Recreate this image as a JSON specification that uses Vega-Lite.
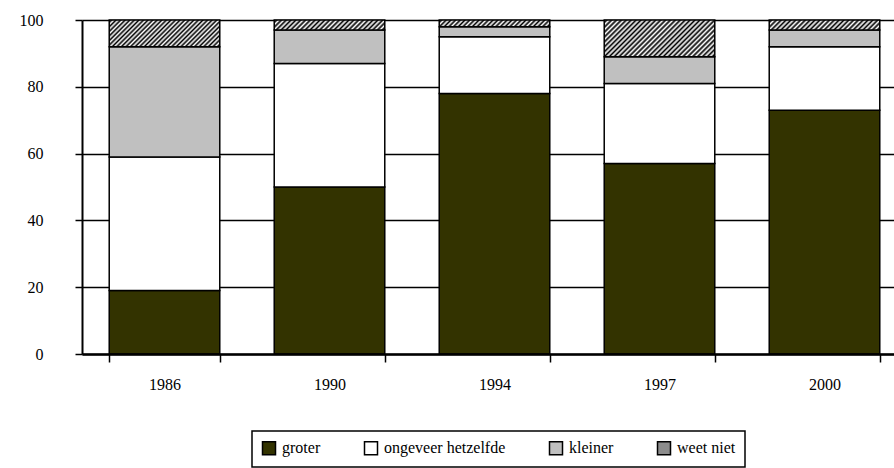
{
  "$schema": "https://vega.github.io/schema/vega-lite/v6.json",
  "width": 812,
  "height": 334,
  "autosize": {"type": "none"},
  "padding": {"left": 82, "top": 20, "right": 0, "bottom": 114},
  "background": "white",
  "config": {"view": {"stroke": null}, "font": "Liberation Serif"},
  "data": {
    "values": [
      {"year": "1986", "cat": "groter", "k": 1, "pct": 19},
      {"year": "1986", "cat": "ongeveer hetzelfde", "k": 2, "pct": 40},
      {"year": "1986", "cat": "kleiner", "k": 3, "pct": 33},
      {"year": "1986", "cat": "weet niet", "k": 4, "pct": 8},
      {"year": "1990", "cat": "groter", "k": 1, "pct": 50},
      {"year": "1990", "cat": "ongeveer hetzelfde", "k": 2, "pct": 37},
      {"year": "1990", "cat": "kleiner", "k": 3, "pct": 10},
      {"year": "1990", "cat": "weet niet", "k": 4, "pct": 3},
      {"year": "1994", "cat": "groter", "k": 1, "pct": 78},
      {"year": "1994", "cat": "ongeveer hetzelfde", "k": 2, "pct": 17},
      {"year": "1994", "cat": "kleiner", "k": 3, "pct": 3},
      {"year": "1994", "cat": "weet niet", "k": 4, "pct": 2},
      {"year": "1997", "cat": "groter", "k": 1, "pct": 57},
      {"year": "1997", "cat": "ongeveer hetzelfde", "k": 2, "pct": 24},
      {"year": "1997", "cat": "kleiner", "k": 3, "pct": 8},
      {"year": "1997", "cat": "weet niet", "k": 4, "pct": 11},
      {"year": "2000", "cat": "groter", "k": 1, "pct": 73},
      {"year": "2000", "cat": "ongeveer hetzelfde", "k": 2, "pct": 19},
      {"year": "2000", "cat": "kleiner", "k": 3, "pct": 5},
      {"year": "2000", "cat": "weet niet", "k": 4, "pct": 3}
    ]
  },
  "mark": {"type": "bar", "stroke": "black", "strokeWidth": 1.5, "opacity": 1},
  "encoding": {
    "x": {
      "field": "year",
      "type": "nominal",
      "sort": null,
      "scale": {"range": [0, 825], "paddingInner": 0.33, "paddingOuter": 0.165},
      "axis": {
        "title": null,
        "tickBand": "extent",
        "labelAngle": 0,
        "domainColor": "black",
        "domainWidth": 2.5,
        "tickColor": "black",
        "tickWidth": 1.5,
        "tickSize": 8,
        "labelFont": "Liberation Serif",
        "labelFontSize": 16,
        "labelColor": "black",
        "labelPadding": 14,
        "zindex": 1
      }
    },
    "y": {
      "field": "pct",
      "type": "quantitative",
      "stack": "zero",
      "scale": {"domain": [0, 100], "nice": false},
      "axis": {
        "title": null,
        "values": [0, 20, 40, 60, 80, 100],
        "grid": true,
        "gridColor": "black",
        "gridWidth": 1.3,
        "gridOpacity": 1,
        "domainColor": "black",
        "domainWidth": 2,
        "tickColor": "black",
        "tickWidth": 1.5,
        "tickSize": 7,
        "labelFont": "Liberation Serif",
        "labelFontSize": 16,
        "labelColor": "black",
        "labelPadding": 32
      }
    },
    "order": {"field": "k", "type": "quantitative"},
    "color": {
      "condition": [
        {
          "test": "datum.cat === 'weet niet' && datum.year === '1986'",
          "value": {"gradient": "linear", "x1": 0, "y1": 0, "x2": 1.1731, "y2": 0.2834, "stops": [
            {"offset":0,"color":"#fff"},{"offset":0.0167,"color":"#000"},{"offset":0.0333,"color":"#fff"},{"offset":0.05,"color":"#000"},{"offset":0.0667,"color":"#fff"},{"offset":0.0833,"color":"#000"},{"offset":0.1,"color":"#fff"},{"offset":0.1167,"color":"#000"},{"offset":0.1333,"color":"#fff"},{"offset":0.15,"color":"#000"},{"offset":0.1667,"color":"#fff"},{"offset":0.1833,"color":"#000"},{"offset":0.2,"color":"#fff"},{"offset":0.2167,"color":"#000"},{"offset":0.2333,"color":"#fff"},{"offset":0.25,"color":"#000"},{"offset":0.2667,"color":"#fff"},{"offset":0.2833,"color":"#000"},{"offset":0.3,"color":"#fff"},{"offset":0.3167,"color":"#000"},{"offset":0.3333,"color":"#fff"},{"offset":0.35,"color":"#000"},{"offset":0.3667,"color":"#fff"},{"offset":0.3833,"color":"#000"},{"offset":0.4,"color":"#fff"},{"offset":0.4167,"color":"#000"},{"offset":0.4333,"color":"#fff"},{"offset":0.45,"color":"#000"},{"offset":0.4667,"color":"#fff"},{"offset":0.4833,"color":"#000"},{"offset":0.5,"color":"#fff"},{"offset":0.5167,"color":"#000"},{"offset":0.5333,"color":"#fff"},{"offset":0.55,"color":"#000"},{"offset":0.5667,"color":"#fff"},{"offset":0.5833,"color":"#000"},{"offset":0.6,"color":"#fff"},{"offset":0.6167,"color":"#000"},{"offset":0.6333,"color":"#fff"},{"offset":0.65,"color":"#000"},{"offset":0.6667,"color":"#fff"},{"offset":0.6833,"color":"#000"},{"offset":0.7,"color":"#fff"},{"offset":0.7167,"color":"#000"},{"offset":0.7333,"color":"#fff"},{"offset":0.75,"color":"#000"},{"offset":0.7667,"color":"#fff"},{"offset":0.7833,"color":"#000"},{"offset":0.8,"color":"#fff"},{"offset":0.8167,"color":"#000"},{"offset":0.8333,"color":"#fff"},{"offset":0.85,"color":"#000"},{"offset":0.8667,"color":"#fff"},{"offset":0.8833,"color":"#000"},{"offset":0.9,"color":"#fff"},{"offset":0.9167,"color":"#000"},{"offset":0.9333,"color":"#fff"},{"offset":0.95,"color":"#000"},{"offset":0.9667,"color":"#fff"},{"offset":0.9833,"color":"#000"},{"offset":1,"color":"#fff"}
          ]}
        },
        {
          "test": "datum.cat === 'weet niet' && datum.year === '1997'",
          "value": {"gradient": "linear", "x1": 0, "y1": 0, "x2": 1.1998, "y2": 0.3984, "stops": [
            {"offset":0,"color":"#fff"},{"offset":0.0167,"color":"#000"},{"offset":0.0333,"color":"#fff"},{"offset":0.05,"color":"#000"},{"offset":0.0667,"color":"#fff"},{"offset":0.0833,"color":"#000"},{"offset":0.1,"color":"#fff"},{"offset":0.1167,"color":"#000"},{"offset":0.1333,"color":"#fff"},{"offset":0.15,"color":"#000"},{"offset":0.1667,"color":"#fff"},{"offset":0.1833,"color":"#000"},{"offset":0.2,"color":"#fff"},{"offset":0.2167,"color":"#000"},{"offset":0.2333,"color":"#fff"},{"offset":0.25,"color":"#000"},{"offset":0.2667,"color":"#fff"},{"offset":0.2833,"color":"#000"},{"offset":0.3,"color":"#fff"},{"offset":0.3167,"color":"#000"},{"offset":0.3333,"color":"#fff"},{"offset":0.35,"color":"#000"},{"offset":0.3667,"color":"#fff"},{"offset":0.3833,"color":"#000"},{"offset":0.4,"color":"#fff"},{"offset":0.4167,"color":"#000"},{"offset":0.4333,"color":"#fff"},{"offset":0.45,"color":"#000"},{"offset":0.4667,"color":"#fff"},{"offset":0.4833,"color":"#000"},{"offset":0.5,"color":"#fff"},{"offset":0.5167,"color":"#000"},{"offset":0.5333,"color":"#fff"},{"offset":0.55,"color":"#000"},{"offset":0.5667,"color":"#fff"},{"offset":0.5833,"color":"#000"},{"offset":0.6,"color":"#fff"},{"offset":0.6167,"color":"#000"},{"offset":0.6333,"color":"#fff"},{"offset":0.65,"color":"#000"},{"offset":0.6667,"color":"#fff"},{"offset":0.6833,"color":"#000"},{"offset":0.7,"color":"#fff"},{"offset":0.7167,"color":"#000"},{"offset":0.7333,"color":"#fff"},{"offset":0.75,"color":"#000"},{"offset":0.7667,"color":"#fff"},{"offset":0.7833,"color":"#000"},{"offset":0.8,"color":"#fff"},{"offset":0.8167,"color":"#000"},{"offset":0.8333,"color":"#fff"},{"offset":0.85,"color":"#000"},{"offset":0.8667,"color":"#fff"},{"offset":0.8833,"color":"#000"},{"offset":0.9,"color":"#fff"},{"offset":0.9167,"color":"#000"},{"offset":0.9333,"color":"#fff"},{"offset":0.95,"color":"#000"},{"offset":0.9667,"color":"#fff"},{"offset":0.9833,"color":"#000"},{"offset":1,"color":"#fff"}
          ]}
        },
        {
          "test": "datum.cat === 'weet niet' && (datum.year === '1990' || datum.year === '2000')",
          "value": {"gradient": "linear", "x1": 0, "y1": 0, "x2": 1.0816, "y2": 0.0979, "stops": [
            {"offset":0,"color":"#fff"},{"offset":0.02,"color":"#000"},{"offset":0.04,"color":"#fff"},{"offset":0.06,"color":"#000"},{"offset":0.08,"color":"#fff"},{"offset":0.1,"color":"#000"},{"offset":0.12,"color":"#fff"},{"offset":0.14,"color":"#000"},{"offset":0.16,"color":"#fff"},{"offset":0.18,"color":"#000"},{"offset":0.2,"color":"#fff"},{"offset":0.22,"color":"#000"},{"offset":0.24,"color":"#fff"},{"offset":0.26,"color":"#000"},{"offset":0.28,"color":"#fff"},{"offset":0.3,"color":"#000"},{"offset":0.32,"color":"#fff"},{"offset":0.34,"color":"#000"},{"offset":0.36,"color":"#fff"},{"offset":0.38,"color":"#000"},{"offset":0.4,"color":"#fff"},{"offset":0.42,"color":"#000"},{"offset":0.44,"color":"#fff"},{"offset":0.46,"color":"#000"},{"offset":0.48,"color":"#fff"},{"offset":0.5,"color":"#000"},{"offset":0.52,"color":"#fff"},{"offset":0.54,"color":"#000"},{"offset":0.56,"color":"#fff"},{"offset":0.58,"color":"#000"},{"offset":0.6,"color":"#fff"},{"offset":0.62,"color":"#000"},{"offset":0.64,"color":"#fff"},{"offset":0.66,"color":"#000"},{"offset":0.68,"color":"#fff"},{"offset":0.7,"color":"#000"},{"offset":0.72,"color":"#fff"},{"offset":0.74,"color":"#000"},{"offset":0.76,"color":"#fff"},{"offset":0.78,"color":"#000"},{"offset":0.8,"color":"#fff"},{"offset":0.82,"color":"#000"},{"offset":0.84,"color":"#fff"},{"offset":0.86,"color":"#000"},{"offset":0.88,"color":"#fff"},{"offset":0.9,"color":"#000"},{"offset":0.92,"color":"#fff"},{"offset":0.94,"color":"#000"},{"offset":0.96,"color":"#fff"},{"offset":0.98,"color":"#000"},{"offset":1,"color":"#fff"}
          ]}
        },
        {
          "test": "datum.cat === 'weet niet' && datum.year === '1994'",
          "value": {"gradient": "linear", "x1": 0, "y1": 0, "x2": 1.0567, "y2": 0.064, "stops": [
            {"offset":0,"color":"#fff"},{"offset":0.02,"color":"#000"},{"offset":0.04,"color":"#fff"},{"offset":0.06,"color":"#000"},{"offset":0.08,"color":"#fff"},{"offset":0.1,"color":"#000"},{"offset":0.12,"color":"#fff"},{"offset":0.14,"color":"#000"},{"offset":0.16,"color":"#fff"},{"offset":0.18,"color":"#000"},{"offset":0.2,"color":"#fff"},{"offset":0.22,"color":"#000"},{"offset":0.24,"color":"#fff"},{"offset":0.26,"color":"#000"},{"offset":0.28,"color":"#fff"},{"offset":0.3,"color":"#000"},{"offset":0.32,"color":"#fff"},{"offset":0.34,"color":"#000"},{"offset":0.36,"color":"#fff"},{"offset":0.38,"color":"#000"},{"offset":0.4,"color":"#fff"},{"offset":0.42,"color":"#000"},{"offset":0.44,"color":"#fff"},{"offset":0.46,"color":"#000"},{"offset":0.48,"color":"#fff"},{"offset":0.5,"color":"#000"},{"offset":0.52,"color":"#fff"},{"offset":0.54,"color":"#000"},{"offset":0.56,"color":"#fff"},{"offset":0.58,"color":"#000"},{"offset":0.6,"color":"#fff"},{"offset":0.62,"color":"#000"},{"offset":0.64,"color":"#fff"},{"offset":0.66,"color":"#000"},{"offset":0.68,"color":"#fff"},{"offset":0.7,"color":"#000"},{"offset":0.72,"color":"#fff"},{"offset":0.74,"color":"#000"},{"offset":0.76,"color":"#fff"},{"offset":0.78,"color":"#000"},{"offset":0.8,"color":"#fff"},{"offset":0.82,"color":"#000"},{"offset":0.84,"color":"#fff"},{"offset":0.86,"color":"#000"},{"offset":0.88,"color":"#fff"},{"offset":0.9,"color":"#000"},{"offset":0.92,"color":"#fff"},{"offset":0.94,"color":"#000"},{"offset":0.96,"color":"#fff"},{"offset":0.98,"color":"#000"},{"offset":1,"color":"#fff"}
          ]}
        }
      ],
      "field": "cat",
      "type": "nominal",
      "scale": {
        "domain": ["groter", "ongeveer hetzelfde", "kleiner", "weet niet"],
        "range": ["#333300", "#ffffff", "#c0c0c0", "#8c8c8c"]
      },
      "legend": {
        "title": null,
        "orient": "none",
        "legendX": 170,
        "legendY": 411,
        "direction": "horizontal",
        "symbolType": "square",
        "symbolSize": 169,
        "symbolStrokeColor": "black",
        "symbolStrokeWidth": 1.5,
        "symbolOpacity": 1,
        "labelFont": "Liberation Serif",
        "labelFontSize": 16,
        "labelColor": "black",
        "labelOffset": 5,
        "columnPadding": 40,
        "strokeColor": "black",
        "fillColor": "white",
        "padding": 9,
        "encode": {
          "legend": {
            "update": {
              "strokeWidth": {"value": 1.5}
            }
          },
          "symbols": {
            "update": {
              "fill": {"signal": "datum.value === 'weet niet' ? {gradient: 'linear', x1: 0, y1: 0, x2: 1, y2: 1, stops: [{offset: 0, color: '#fff'}, {offset: 0.125, color: '#000'}, {offset: 0.25, color: '#fff'}, {offset: 0.375, color: '#000'}, {offset: 0.5, color: '#fff'}, {offset: 0.625, color: '#000'}, {offset: 0.75, color: '#fff'}, {offset: 0.875, color: '#000'}, {offset: 1, color: '#fff'}]} : scale('color', datum.value)"},
              "stroke": {"value": "black"},
              "opacity": {"value": 1}
            }
          }
        }
      }
    }
  }
}
